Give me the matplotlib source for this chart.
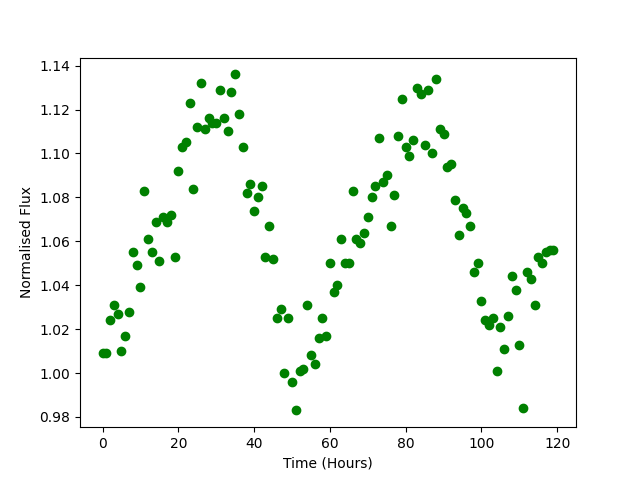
import numpy as np
import matplotlib
matplotlib.use('Agg')
import matplotlib.pyplot as plt

hours = np.arange(120)
flux = [
    1.009, 1.009, 1.024, 1.031, 1.027, 1.010, 1.017, 1.028, 1.055, 1.049,
    1.039, 1.083, 1.061, 1.055, 1.069, 1.051, 1.071, 1.069, 1.072, 1.053,
    1.092, 1.103, 1.105, 1.123, 1.084, 1.112, 1.132, 1.111, 1.116, 1.114,
    1.114, 1.129, 1.116, 1.110, 1.128, 1.136, 1.118, 1.103, 1.082, 1.086,
    1.074, 1.080, 1.085, 1.053, 1.067, 1.052, 1.025, 1.029, 1.000, 1.025,
    0.996, 0.983, 1.001, 1.002, 1.031, 1.008, 1.004, 1.016, 1.025, 1.017,
    1.050, 1.037, 1.040, 1.061, 1.050, 1.050, 1.083, 1.061, 1.059, 1.064,
    1.071, 1.080, 1.085, 1.107, 1.087, 1.090, 1.067, 1.081, 1.108, 1.125,
    1.103, 1.099, 1.106, 1.130, 1.127, 1.104, 1.129, 1.100, 1.134, 1.111,
    1.109, 1.094, 1.095, 1.079, 1.063, 1.075, 1.073, 1.067, 1.046, 1.050,
    1.033, 1.024, 1.022, 1.025, 1.001, 1.021, 1.011, 1.026, 1.044, 1.038,
    1.013, 0.984, 1.046, 1.043, 1.031, 1.053, 1.050, 1.055, 1.056, 1.056,
]

fig, ax = plt.subplots(figsize=(6.4, 4.8), dpi=100)
ax.scatter(hours, flux, color='green')
ax.set_xlabel('Time (Hours)')
ax.set_ylabel('Normalised Flux')
plt.savefig('out.png')
